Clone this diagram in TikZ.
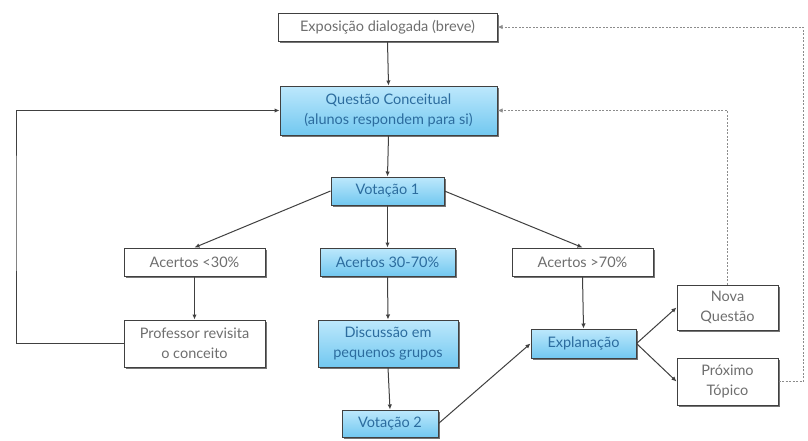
\documentclass[tikz,border=0pt]{standalone}
\usepackage{fontspec}
\setmainfont{Lato}
\usetikzlibrary{shadows,arrows.meta}
\definecolor{bluetop}{HTML}{BDE8FC}
\definecolor{bluebot}{HTML}{72C8F0}
\definecolor{textblue}{HTML}{2C6C9E}
\definecolor{textgrey}{HTML}{6E6E6E}
\begin{document}
\begin{tikzpicture}[x=1pt,y=-1pt,
  box/.style={draw=black!75, line width=1pt, align=center, inner sep=0pt,
    font=\fontsize{14.5}{20}\selectfont,
    drop shadow={shadow xshift=1.6pt,shadow yshift=-2pt,fill=black!60,opacity=0.9}},
  wbox/.style={box, fill=white, text=textgrey},
  bbox/.style={box, top color=bluetop, bottom color=bluebot, text=textblue},
  arr/.style={-{Latex[length=5pt,width=4.5pt]}, draw=black!75, line width=1pt},
  darr/.style={arr, draw=black!45, dash pattern=on 2pt off 1.5pt}]
\useasboundingbox[fill=white] (0,0) rectangle (808,440);

\node[wbox, minimum width=219pt, minimum height=28pt] (exp) at (387.5,27) {Exposição dialogada (breve)};
\node[bbox, minimum width=217pt, minimum height=49pt] (q) at (388.5,110.5) {Questão Conceitual\\(alunos respondem para si)};
\node[bbox, minimum width=113pt, minimum height=28pt] (v1) at (387.5,191) {Votação 1};
\node[wbox, minimum width=141pt, minimum height=28pt] (a30) at (194.5,262) {Acertos <30\%};
\node[bbox, minimum width=135pt, minimum height=28pt] (a3070) at (387.5,262) {Acertos 30-70\%};
\node[wbox, minimum width=141pt, minimum height=28pt] (a70) at (582.5,262) {Acertos >70\%};
\node[wbox, minimum width=141pt, minimum height=47pt] (prof) at (194.5,343.5) {Professor revisita\\o conceito};
\node[bbox, minimum width=140pt, minimum height=47pt] (disc) at (388,343.5) {Discussão em\\pequenos grupos};
\node[bbox, minimum width=96pt, minimum height=27pt] (v2) at (390,423.5) {Votação 2};
\node[bbox, minimum width=105pt, minimum height=29pt] (expl) at (583.5,343.5) {Explanação};
\node[wbox, minimum width=101pt, minimum height=45pt] (nova) at (727.5,307.5) {Nova\\Questão};
\node[wbox, minimum width=101pt, minimum height=47pt] (prox) at (727.5,381.5) {Próximo\\Tópico};

\coordinate (L) at (16,200);
\coordinate (R) at (803,200);

\draw[arr] (exp.south) -- (q.north);
\draw[arr] (q.south) -- (v1.north);
\draw[arr] (v1.west) -- (a30.north);
\draw[arr] (v1.south) -- (a3070.north);
\draw[arr] (v1.east) -- (a70.north);
\draw[arr] (a30.south) -- (prof.north);
\draw[arr] (a3070.south) -- (disc.north);
\draw[arr] (disc.south) -- (v2.north);
\draw[arr] (a70.south) -- (expl.north);
\draw[arr] (v2.east) -- (expl.west);
\draw[arr] (expl.east) -- (nova.west);
\draw[arr] (expl.east) -- (prox.west);
\draw[arr] (prof.west) -| (L) |- (q.west);
\draw[darr] (nova.north) |- (q.east);
\draw[darr] (prox.east) -| (R) |- (exp.east);
\end{tikzpicture}
\end{document}
